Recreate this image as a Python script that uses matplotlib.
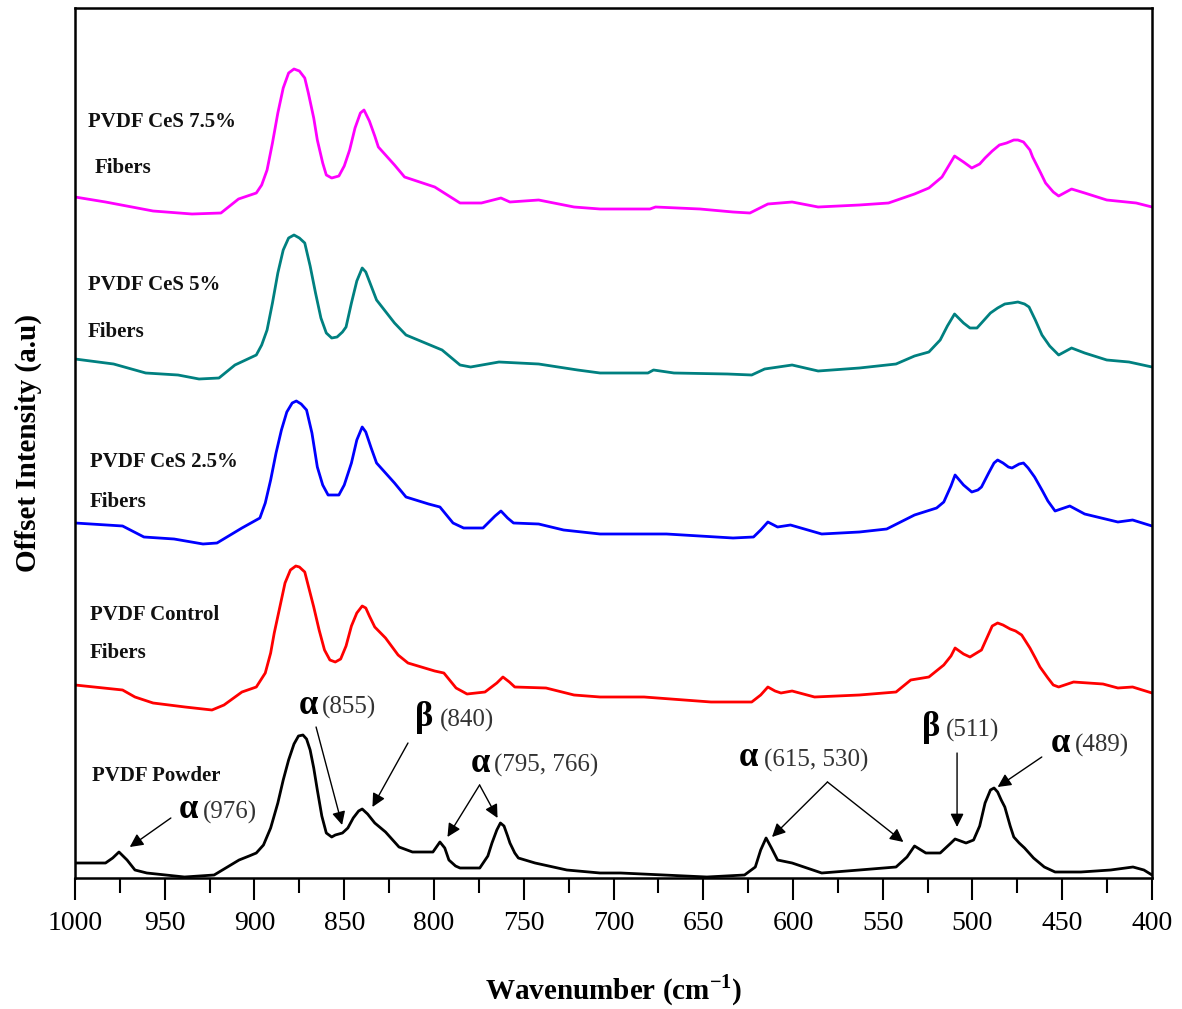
import matplotlib
matplotlib.use("Agg")
import matplotlib.pyplot as plt
from matplotlib.ticker import MultipleLocator

# ---------------- data (offset intensity, a.u.) ----------------
wn_powder = [1000, 983, 979, 975.5, 971, 966.6, 960, 939, 922.5, 908.6, 903, 899, 895, 891, 887, 884, 881, 878,
             875.5, 873, 871, 869, 867, 865, 862.5, 860, 857, 855, 851, 848, 845, 842, 840, 837, 833, 827, 819.5,
             812, 800.6, 796.7, 794, 791.7, 788, 785.5, 774.5, 770, 767.7, 765, 763, 761, 759, 757.7, 755, 753,
             743.7, 726, 707.5, 696, 648, 627, 621, 618, 615, 612, 608.6, 600.5, 584, 563, 542.6, 536.5, 532.3,
             526, 518, 512, 509.7, 503.6, 499.4, 496, 493, 490, 488, 486, 484, 482, 479, 477, 474, 471, 466, 460,
             454, 439.6, 423, 410.6, 404.5, 400]
int_powder = [15, 15, 20, 26, 18, 8, 5, 1, 3, 18, 22, 25, 33, 50, 75, 98, 118, 134, 142, 143, 139, 128, 110, 88,
              62, 45, 41, 43, 45, 50, 60, 67, 69, 64, 55, 46, 31, 26, 26, 36, 30, 18, 12, 10, 10, 22, 35, 48, 55,
              52, 42, 35, 25, 20, 15, 8, 5, 5, 1, 3, 11, 28, 40, 30, 18, 15, 5, 8, 11, 21, 32, 25, 25, 35, 39, 35,
              38, 52, 75, 88, 90, 86, 78, 71, 52, 41, 35, 30, 20, 11, 6, 6, 8, 11, 8, 3]

wn_control = [1000, 973.5, 966.6, 956.5, 938.7, 923.7, 917, 907, 899, 894, 891, 889, 886, 883, 880, 877, 875, 872,
              870, 867, 864, 861, 858, 855, 852, 849, 846, 843, 840, 838, 836, 833, 827, 820, 814.5, 799.6, 794.5,
              787.7, 781.6, 771.6, 765, 761.6, 758, 755, 737.6, 722, 707.5, 683, 645.7, 623, 618, 614, 610, 606.7,
              600.5, 588, 563, 542.6, 534.4, 524.3, 516, 512, 509.7, 505, 501.4, 495, 492, 489, 486, 483, 479, 476,
              472.6, 468, 465, 462.4, 458, 455, 452, 443.7, 427.3, 419, 410.8, 400]
int_control = [193, 188, 181, 175, 171, 168, 173, 186, 191, 205, 225, 245, 270, 295, 308, 312, 311, 306, 292, 271,
               248, 228, 218, 216, 219, 232, 252, 265, 272, 270, 262, 251, 240, 223, 215, 207, 205, 190, 184, 186,
               195, 201, 196, 191, 190, 183, 181, 181, 176, 176, 183, 191, 187, 185, 187, 181, 183, 186, 198, 201,
               213, 222, 230, 224, 221, 228, 240, 252, 255, 253, 249, 247, 243, 230, 220, 211, 200, 193, 191, 196,
               194, 190, 191, 185]

wn_ces25 = [1000, 973.5, 961.6, 944.8, 928.7, 920.9, 907, 897, 894, 891, 888, 885, 882, 879, 876.7, 874, 871, 868,
            865, 862, 859, 853, 850, 846, 843, 840, 838, 835, 832, 822, 815.6, 803, 796.7, 789.4, 783.5, 772.7, 766,
            762.7, 759, 755.7, 741.7, 727.8, 707.5, 670.5, 633.4, 622, 618, 614, 608.6, 601.4, 584, 563, 547.8,
            532.3, 520, 516, 512, 509.7, 505, 500.4, 497, 495, 491, 488, 486, 483, 480, 478, 474, 471.6, 469, 465.4,
            461, 458, 454, 445.8, 437.5, 419, 410.8, 400]
int_ces25 = [355, 352, 341, 339, 334, 335, 350, 360, 375, 398, 425, 448, 466, 475, 477, 474, 468, 445, 411, 393,
             383, 383, 393, 415, 438, 451, 446, 430, 415, 395, 381, 374, 371, 355, 350, 350, 362, 367, 360, 355, 354,
             348, 344, 344, 340, 341, 348, 356, 351, 353, 344, 346, 349, 363, 370, 376, 392, 403, 393, 386, 388, 391,
             405, 415, 418, 415, 411, 410, 414, 415, 410, 401, 387, 377, 367, 372, 364, 356, 358, 352]

wn_ces5 = [1000, 978.5, 960.6, 942.6, 930.9, 919.8, 910.9, 899, 896, 893, 890, 887, 884, 881, 878, 875, 872, 869,
           866, 863, 860, 857, 854, 851, 849, 846, 843, 840, 838, 835, 832, 822, 815.6, 795.5, 785.5, 779.6, 763.8,
           741.7, 720, 707.5, 680.8, 677.7, 666.3, 636.5, 623, 615.8, 600.5, 586, 563, 542.6, 532.3, 524.3, 518,
           514, 510, 505, 501.4, 497.5, 494, 490, 486, 482, 478, 474.7, 471, 468.5, 465, 461.3, 457, 452, 444.8,
           437.5, 425.2, 412.8, 400]
int_ces5 = [519, 514, 505, 503, 499, 500, 513, 523, 533, 548, 575, 605, 628, 640, 643, 640, 635, 612, 585, 560, 545,
            540, 541, 546, 551, 575, 597, 610, 606, 592, 578, 555, 543, 528, 513, 511, 516, 514, 508, 505, 505, 508,
            505, 504, 503, 509, 513, 507, 510, 514, 522, 526, 538, 552, 564, 555, 550, 550, 557, 565, 570, 574, 575,
            576, 574, 571, 558, 543, 532, 523, 530, 525, 518, 516, 511]

wn_ces75 = [1000, 983, 956.5, 934.8, 918.7, 908.9, 899, 896, 893, 890, 887, 884, 881, 878, 875, 872, 870, 867, 865,
            862, 860, 857, 853, 850, 847, 844, 841, 839, 836, 833, 831, 822, 816.4, 799.6, 785.5, 773.6, 762.7,
            757.7, 741.7, 722, 707.5, 679.7, 676.6, 651.8, 633.4, 624, 614, 600.5, 586, 563, 546.8, 532.3, 524.3,
            517, 513, 510, 505, 500.4, 496, 493, 489, 485, 481, 477, 474.7, 471.6, 468, 466.5, 462, 459.3, 455, 452,
            444.8, 437.5, 425.2, 408.8, 400]
int_ces75 = [681, 676, 667, 664, 665, 679, 685, 693, 708, 735, 765, 790, 805, 809, 807, 800, 785, 760, 738, 715, 703,
             700, 702, 712, 728, 750, 765, 768, 757, 742, 731, 713, 701, 691, 675, 675, 680, 676, 678, 671, 669, 669,
             671, 669, 666, 665, 674, 676, 671, 673, 675, 684, 690, 701, 713, 722, 716, 710, 714, 720, 727, 733, 735,
             738, 738, 736, 728, 721, 705, 695, 686, 682, 689, 685, 678, 675, 671]

x_ticks = [1000, 950, 900, 850, 800, 750, 700, 650, 600, 550, 500, 450, 400]

# ---------------- figure ----------------
serif = ["Liberation Serif", "DejaVu Serif"]
plt.rcParams["font.family"] = serif

fig = plt.figure(figsize=(11.82, 10.09), dpi=100)
ax = fig.add_axes([75 / 1182, 1 - 878 / 1009, (1152 - 75) / 1182, (878 - 8) / 1009])

style = dict(lw=2.0, solid_joinstyle="round", solid_capstyle="round")
ax.plot(wn_ces75, int_ces75, color="#FF00FF", **style)
ax.plot(wn_ces5, int_ces5, color="#008080", **style)
ax.plot(wn_ces25, int_ces25, color="#0000FF", **style)
ax.plot(wn_control, int_control, color="#FF0000", **style)
ax.plot(wn_powder, int_powder, color="black", **style)

ax.set_xlim(1000, 400)
ax.set_ylim(0, 870)
ax.set_xticks(x_ticks)
ax.set_xticklabels([str(t) for t in x_ticks])
ax.xaxis.set_minor_locator(MultipleLocator(25))
ax.tick_params(axis="x", which="major", direction="out", length=16, width=1.5, labelsize=20, pad=8)
ax.tick_params(axis="x", which="minor", direction="out", length=11, width=1.5)
ax.set_yticks([])
for s in ax.spines.values():
    s.set_linewidth(1.8)

ax.set_xlabel("Wavenumber (cm$^{\\mathregular{-1}}$)", fontsize=21, fontweight="bold", labelpad=26)
ax.set_ylabel("Offset Intensity (a.u)", fontsize=21, fontweight="bold", labelpad=24)

# sample labels
lab = dict(fontsize=15, fontweight="bold", va="center", ha="left", color="#111111")
ax.text(992.8, 756, "PVDF CeS 7.5%", **lab)
ax.text(988.9, 710, "Fibers", **lab)
ax.text(992.8, 593, "PVDF CeS 5%", **lab)
ax.text(992.8, 546, "Fibers", **lab)
ax.text(991.6, 416, "PVDF CeS 2.5%", **lab)
ax.text(991.6, 376, "Fibers", **lab)
ax.text(991.6, 263, "PVDF Control", **lab)
ax.text(991.6, 225, "Fibers", **lab)
ax.text(990.5, 102, "PVDF Powder", **lab)

# peak annotations
greek = dict(fontsize=25, fontweight="bold", va="center", ha="right", color="black")
num = dict(fontsize=18, va="center", ha="left", color="#333333")
arr = dict(arrowstyle="-|>", color="black", lw=1.0, mutation_scale=20, shrinkA=0, shrinkB=0)

def label(xg, xn, y, g, n):
    ax.text(xg, y + 2, g, **greek)
    ax.text(xn, y, n, **num)

def arrow(tail, head):
    ax.annotate("", xy=head, xytext=tail, arrowprops=arr)

label(931.5, 928.7, 66, "α", "(976)")
arrow((946.6, 60), (969.5, 31))

label(864.6, 862.4, 171, "α", "(855)")
arrow((865.7, 151), (851.2, 53))

label(800.6, 796.7, 158, "β", "(840)")
arrow((814.5, 135), (834.3, 71))

label(768.8, 766.6, 113, "α", "(795, 766)")
arrow((774.6, 93), (792.5, 41))
arrow((774.6, 93), (764.6, 60))

label(619.5, 616.2, 118, "α", "(615, 530)")
arrow((580.8, 96), (611.7, 41))
arrow((580.8, 96), (538.5, 36))

label(518.1, 514.8, 148, "β", "(511)")
arrow((508.6, 125), (508.6, 51))

label(445.7, 442.9, 133, "α", "(489)")
arrow((461.4, 121), (486, 91))

fig.savefig("out.png", dpi=100)
